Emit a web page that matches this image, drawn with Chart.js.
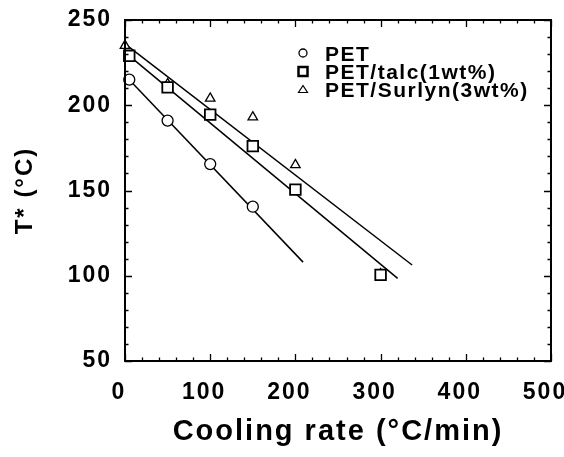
<!DOCTYPE html>
<html>
<head>
<meta charset="utf-8">
<script src="https://cdn.jsdelivr.net/npm/chart.js@4/dist/chart.umd.min.js"></script>
<style>
    html, body { margin: 0; padding: 0; background: #fff; }
    #caixa { width: 564px; height: 457px; }
</style>
</head>
<body>
<div id="caixa"><canvas id="graficoResfriamento" width="564" height="457"></canvas></div>
<script>
// Dados
var seriesNames = ['PET', 'PET/talc(1wt%)', 'PET/Surlyn(3wt%)'];

var petX = [5, 50, 100, 150];
var petY = [215, 191, 165.5, 140.5];

var talcX = [5, 50, 100, 150, 200, 300];
var talcY = [229, 210.5, 194.5, 176, 150.5, 100.5];

var surlynX = [0, 50, 100, 150, 200, 300];
var surlynY = [235, 212.5, 204, 193, 165, 101];

// Retas ajustadas (extremos)
var petFitX = [5, 209];
var petFitY = [215, 108];
var talcFitX = [5, 320];
var talcFitY = [229, 98.5];
var surlynFitX = [0, 337];
var surlynFitY = [236, 106.3];

// Rótulos dos eixos
var xTicks = [0, 100, 200, 300, 400, 500];
var yTicks = [50, 100, 150, 200, 250];

function pares(xs, ys) {
    return xs.map(function(x, i) { return { x: x, y: ys[i] }; });
}

var FONTE = '"Liberation Sans", Arial, Helvetica, sans-serif';

// espaçamento entre letras (a figura original é um pouco esticada)
var espacamento = {
    id: 'espacamento',
    beforeUpdate: function(chart) { chart.ctx.letterSpacing = '2px'; },
    beforeDraw: function(chart) { chart.ctx.letterSpacing = '2px'; }
};

// moldura com marcas para dentro nos quatro lados
var moldura = {
    id: 'moldura',
    afterDatasetsDraw: function(chart) {
        var ctx = chart.ctx;
        var a = chart.chartArea;
        var sx = chart.scales.x, sy = chart.scales.y;
        ctx.save();
        ctx.strokeStyle = '#000';
        ctx.lineWidth = 2;
        ctx.strokeRect(a.left, a.top, a.right - a.left, a.bottom - a.top);
        ctx.lineWidth = 1.3;
        ctx.beginPath();
        for (var v = sx.min; v <= sx.max; v += 20) {
            var px = Math.round(sx.getPixelForValue(v)) + 0.5;
            var len = (v % 100 === 0) ? 7 : 3.5;
            ctx.moveTo(px, a.bottom); ctx.lineTo(px, a.bottom - len);
            ctx.moveTo(px, a.top); ctx.lineTo(px, a.top + len);
        }
        for (var w = sy.min; w <= sy.max; w += 10) {
            var py = Math.round(sy.getPixelForValue(w)) + 0.5;
            var l2 = (w % 50 === 0) ? 7 : 3.5;
            ctx.moveTo(a.left, py); ctx.lineTo(a.left + l2, py);
            ctx.moveTo(a.right, py); ctx.lineTo(a.right - l2, py);
        }
        ctx.stroke();
        ctx.restore();
    }
};

// legenda dentro da área do gráfico
var legenda = {
    id: 'legenda',
    afterDraw: function(chart) {
        var ctx = chart.ctx;
        var baseX = 303, textoX = 325;
        var linhas = [53, 71.5, 89.5];
        ctx.save();
        ctx.strokeStyle = '#000';
        ctx.fillStyle = '#fff';
        // círculo
        ctx.lineWidth = 1.3;
        ctx.beginPath();
        ctx.arc(baseX, linhas[0], 4, 0, Math.PI * 2);
        ctx.fill(); ctx.stroke();
        // quadrado
        ctx.lineWidth = 2.5;
        ctx.beginPath();
        ctx.rect(baseX - 4.5, linhas[1] - 4.5, 9, 9);
        ctx.fill(); ctx.stroke();
        // triângulo
        ctx.lineWidth = 1.2;
        ctx.beginPath();
        ctx.moveTo(baseX, linhas[2] - 4);
        ctx.lineTo(baseX + 4.5, linhas[2] + 3);
        ctx.lineTo(baseX - 4.5, linhas[2] + 3);
        ctx.closePath();
        ctx.fill(); ctx.stroke();

        ctx.fillStyle = '#000';
        ctx.letterSpacing = '1.5px';
        ctx.font = 'bold 21px ' + FONTE;
        ctx.textBaseline = 'alphabetic';
        ctx.textAlign = 'left';
        seriesNames.forEach(function(nome, i) {
            ctx.fillText(nome, textoX, linhas[i] + 7.5);
        });
        ctx.restore();
    }
};

var pontoBase = {
    showLine: false,
    borderColor: '#000',
    backgroundColor: '#fff',
    clip: false
};

var retaBase = {
    showLine: true,
    borderColor: '#000',
    borderWidth: 1.5,
    pointRadius: 0,
    fill: false,
    clip: false
};

var config = {
    type: 'scatter',
    data: {
        datasets: [
            Object.assign({}, pontoBase, { label: seriesNames[0], data: pares(petX, petY), pointStyle: 'circle', pointRadius: 5.5, borderWidth: 1.3 }),
            Object.assign({}, pontoBase, { label: seriesNames[1], data: pares(talcX, talcY), pointStyle: 'rect', pointRadius: 7.5, borderWidth: 1.8 }),
            Object.assign({}, pontoBase, { label: seriesNames[2], data: pares(surlynX, surlynY), pointStyle: 'triangle', pointRadius: 5.5, borderWidth: 1.3 }),
            Object.assign({}, retaBase, { label: 'fit PET', data: pares(petFitX, petFitY) }),
            Object.assign({}, retaBase, { label: 'fit talc', data: pares(talcFitX, talcFitY) }),
            Object.assign({}, retaBase, { label: 'fit Surlyn', data: pares(surlynFitX, surlynFitY) })
        ]
    },
    options: {
        responsive: false,
        animation: false,
        devicePixelRatio: 1,
        layout: { padding: { top: 20, right: 13, left: 0, bottom: 0 } },
        plugins: {
            legend: { display: false },
            tooltip: { enabled: false }
        },
        scales: {
            x: {
                type: 'linear',
                min: 0,
                max: 500,
                afterBuildTicks: function(s) { s.ticks = xTicks.map(function(v) { return { value: v }; }); },
                afterFit: function(s) { s.height = 96; s.paddingLeft = 0; s.paddingRight = 0; },
                grid: { display: false, drawTicks: false },
                border: { display: false },
                ticks: {
                    color: '#000',
                    padding: 18,
                    labelOffset: -6,
                    maxRotation: 0,
                    font: { family: FONTE, size: 23, weight: 'bold' }
                },
                title: {
                    display: true,
                    text: 'Cooling rate (°C/min)',
                    color: '#000',
                    padding: { top: 0, bottom: 8 },
                    font: { family: FONTE, size: 29, weight: 'bold' }
                }
            },
            y: {
                type: 'linear',
                min: 50,
                max: 250,
                afterBuildTicks: function(s) { s.ticks = yTicks.map(function(v) { return { value: v }; }); },
                afterFit: function(s) { s.width = 125; s.paddingTop = 0; s.paddingBottom = 0; },
                grid: { display: false, drawTicks: false },
                border: { display: false },
                ticks: {
                    color: '#000',
                    padding: 13,
                    font: { family: FONTE, size: 23, weight: 'bold' }
                },
                title: {
                    display: true,
                    text: 'T* (°C)',
                    color: '#000',
                    padding: { top: 11, bottom: 0 },
                    font: { family: FONTE, size: 24, weight: 'bold' }
                }
            }
        }
    },
    plugins: [espacamento, moldura, legenda]
};

var ctx = document.getElementById('graficoResfriamento').getContext('2d');
new Chart(ctx, config);
</script>
</body>
</html>
